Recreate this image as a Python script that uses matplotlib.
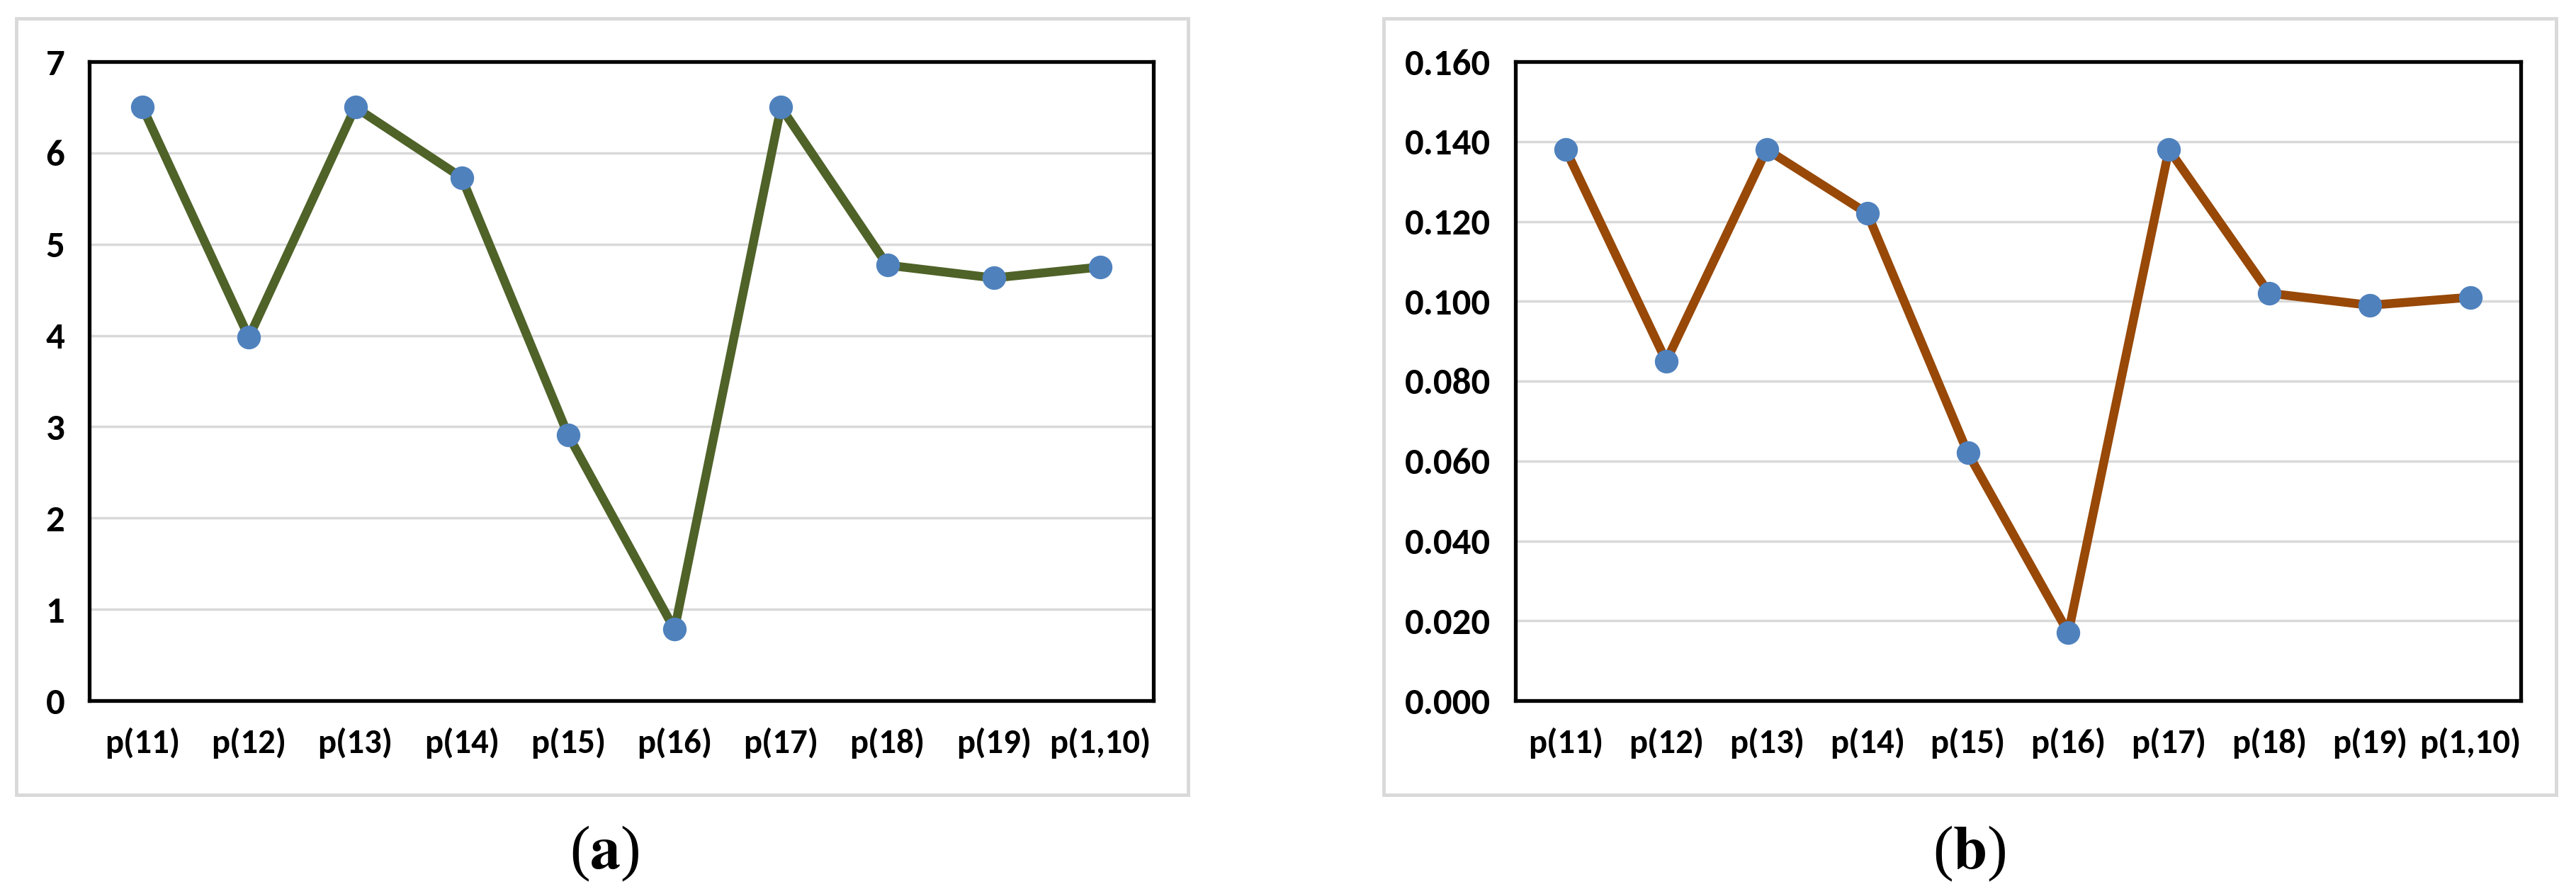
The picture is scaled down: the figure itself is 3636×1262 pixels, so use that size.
import numpy as np
from matplotlib import pyplot as plt
from matplotlib.patches import Rectangle

plt.rcParams['font.family'] = ['Carlito', 'DejaVu Sans']
plt.rcParams['mathtext.fontset'] = 'stix'

labels = ['p(11)', 'p(12)', 'p(13)', 'p(14)', 'p(15)',
          'p(16)', 'p(17)', 'p(18)', 'p(19)', 'p(1,10)']
values_a = [6.50, 3.98, 6.50, 5.73, 2.91, 0.78, 6.50, 4.77, 4.63, 4.75]
values_b = [0.138, 0.085, 0.138, 0.122, 0.062, 0.017, 0.138, 0.102, 0.099, 0.101]
yticks_a = [0, 1, 2, 3, 4, 5, 6, 7]
yticks_b = [0.000, 0.020, 0.040, 0.060, 0.080, 0.100, 0.120, 0.140, 0.160]

W, H = 3636, 1262
fig = plt.figure(figsize=(W / 100, H / 100), dpi=100)


def px_box(x0, y0, x1, y1):
    # pixel box (top-left origin) -> figure fraction [left, bottom, w, h]
    return [x0 / W, 1 - y1 / H, (x1 - x0) / W, (y1 - y0) / H]


def panel(box, frame, vals, yticks, ylabels, color, caption, cap_x):
    # light gray frame around the chart
    fx0, fy0, fx1, fy1 = frame
    fig.patches.append(Rectangle((fx0 / W, 1 - fy1 / H), (fx1 - fx0) / W,
                                 (fy1 - fy0) / H, transform=fig.transFigure,
                                 fill=False, edgecolor='#d9d9d9', linewidth=3.5))
    ax = fig.add_axes(px_box(*box))
    x = np.arange(len(vals))
    ax.plot(x, vals, color=color, linewidth=9, zorder=3,
            solid_capstyle='round')
    ax.plot(x, vals, linestyle='none', marker='o', markersize=23,
            color='#4f81bd', zorder=4)
    ax.set_xlim(-0.5, len(vals) - 0.5)
    ax.set_ylim(yticks[0], yticks[-1])
    ax.set_yticks(yticks)
    ax.set_yticklabels(ylabels, fontsize=38, fontweight='bold')
    ax.set_xticks(x)
    ax.set_xticklabels(labels, fontsize=35, fontweight='bold')
    ax.tick_params(axis='y', length=0, pad=25)
    ax.tick_params(axis='x', length=0, pad=27)
    ax.yaxis.grid(True, color='#d9d9d9', linewidth=2.5, zorder=1)
    ax.set_axisbelow(True)
    for s in ax.spines.values():
        s.set_linewidth(3.8)
        s.set_color('black')
    fig.text(cap_x / W, 1 - 1205 / H, caption, ha='center', va='center',
             fontsize=62, family='Liberation Serif')
    return ax


panel((126, 87, 1628, 989), (23, 26, 1677, 1122), values_a, yticks_a,
      [str(v) for v in yticks_a], '#4f6228', r'($\mathbf{a}$)', 853)
panel((2139, 87, 3558, 989), (1953, 26, 3608, 1122), values_b, yticks_b,
      ['%.3f' % v for v in yticks_b], '#984807', r'($\mathbf{b}$)', 2780)

fig.savefig('out.png', dpi=100)
